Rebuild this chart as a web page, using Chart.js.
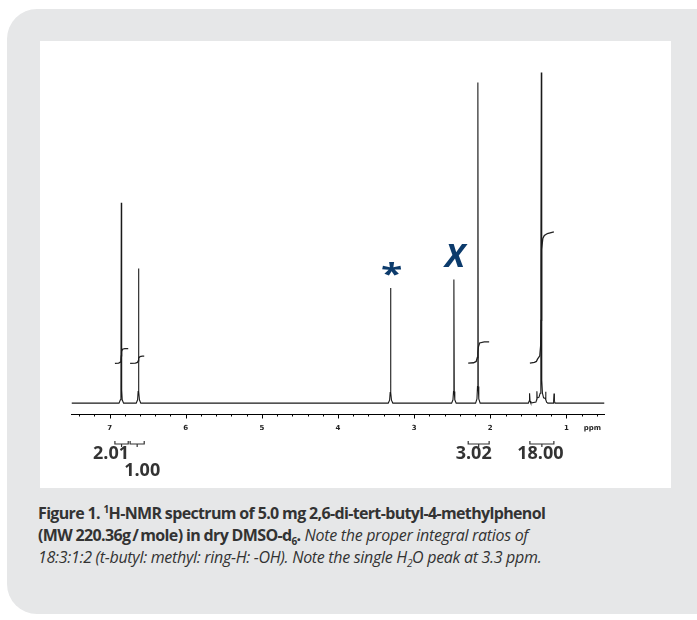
<!DOCTYPE html>
<html>
<head>
<meta charset="utf-8">
<script src="https://cdn.jsdelivr.net/npm/chart.js@4.4.1/dist/chart.umd.min.js"></script>
<style>
	html, body { margin: 0; padding: 0; background: #fff; width: 697px; height: 620px; overflow: hidden; }
	.panel { position: absolute; left: 7px; top: 9px; width: 730px; height: 605px; background: #e6e7e8; border-radius: 30px; }
	.plot { position: absolute; left: 40px; top: 41px; width: 631px; height: 447px; background: #fff; }
	.caption {
		position: absolute; left: 38px; top: 502px; white-space: nowrap;
		font-family: "Open Sans", sans-serif;
		font-size: 16px; line-height: 22px; color: #333;
	}
	.caption b { letter-spacing: -0.65px; }
	.caption i { letter-spacing: -0.3px; }
	.caption sub { font-size: 10px; line-height: 0; }
	.caption sup { font-size: 10px; line-height: 0; }
</style>
</head>
<body>
<div class="panel"></div>
<div class="plot"><canvas id="nmrChart" width="631" height="447"></canvas></div>
<div class="caption">
	<b>Figure 1. <sup>1</sup>H-NMR spectrum of 5.0 mg 2,6-di-tert-butyl-4-methylphenol</b><br>
	<b>(MW 220.36g&thinsp;/&thinsp;mole) in dry DMSO-d<sub>6</sub>.</b> <i>Note the proper integral ratios of</i><br>
	<i>18:3:1:2 (t-butyl: methyl: ring-H: -OH). Note the single H<sub>2</sub>O peak at 3.3 ppm.</i>
</div>
<script>
// spectrum (chemical shift in ppm, intensity with tallest peak = 100)
const shiftPpm = [
	7.50, 6.90,
	6.876, 6.858, 6.851, 6.846, 6.841, 6.834, 6.816,
	6.65, 6.632, 6.625, 6.620, 6.615, 6.608, 6.59,
	3.34, 3.322, 3.315, 3.310, 3.305, 3.298, 3.28,
	2.508, 2.490, 2.483, 2.478, 2.473, 2.466, 2.448,
	2.193, 2.175, 2.168, 2.163, 2.158, 2.151, 2.133,
	1.50, 1.490, 1.484, 1.478, 1.468,
	1.40, 1.392, 1.388, 1.384, 1.36, 1.345, 1.338, 1.334, 1.330, 1.326, 1.322, 1.315, 1.30, 1.277, 1.273, 1.269, 1.26, 1.245,
	1.175, 1.168, 1.163, 1.158, 1.148,
	0.50
];
const intensity = [
	0, 0,
	0, 1.0, 4.0, 60.6, 4.0, 1.0, 0,
	0, 1.0, 3.5, 40.7, 3.5, 1.0, 0,
	0, 0.9, 3.2, 34.8, 3.2, 0.9, 0,
	0, 1.0, 3.5, 37.4, 3.5, 1.0, 0,
	0, 1.3, 5.0, 97.0, 5.0, 1.3, 0,
	0, 0.6, 3.0, 0.6, 0,
	0.3, 1.0, 3.6, 1.5, 1.8, 3.0, 7.0, 40, 100, 40, 7.0, 3.0, 1.6, 1.4, 3.4, 1.0, 0.3, 0,
	0, 0.6, 2.9, 0.6, 0,
	0
];

// integral traces
const integral1Ppm = [6.93, 6.88, 6.86, 6.850, 6.846, 6.842, 6.83, 6.80, 6.755];
const integral1Val = [12.0, 12.1, 12.4, 13.2, 14.3, 15.6, 16.3, 16.5, 16.5];
const integral2Ppm = [6.73, 6.66, 6.635, 6.624, 6.620, 6.616, 6.60, 6.57, 6.545];
const integral2Val = [12.0, 12.1, 12.3, 12.8, 13.1, 13.6, 14.1, 14.2, 14.2];
const integral3Ppm = [2.29, 2.22, 2.185, 2.170, 2.163, 2.156, 2.14, 2.08, 2.015];
const integral3Val = [12.1, 12.2, 12.6, 13.8, 15.3, 17.0, 18.2, 18.5, 18.5];
const integral4Ppm = [1.48, 1.42, 1.395, 1.38, 1.35, 1.338, 1.333, 1.330, 1.327, 1.322, 1.31, 1.29, 1.25, 1.165];
const integral4Val = [12.1, 12.3, 12.6, 13.3, 14.3, 17.5, 25.0, 32.0, 40.0, 46.5, 49.8, 50.7, 51.3, 51.8];

// integral brackets under the axis
const integralStart = [6.93, 6.73, 2.29, 1.48];
const integralEnd = [6.755, 6.545, 2.015, 1.165];
const integralLabels = ["2.01", "1.00", "3.02", "18.00"];

// marked peaks (solvent / water)
const markerPpm = [3.31, 2.478];
const markerLevel = [34.8, 37.4];
const markerText = ["*", "X"];

const navy = "#0c3b6c";

function toPoints(xs, ys) {
	return xs.map((x, i) => ({ x: x, y: ys[i] }));
}

function isTenth(v, n) {
	const t = Math.round(v * 10);
	return Math.abs(v * 10 - t) < 1e-6 && t % n === 0;
}

// draws tick marks, brackets, integral values and peak markers
const extras = {
	id: "extras",
	afterDraw(chart) {
		const c = chart.ctx;
		const xs = chart.scales.x;
		const ys = chart.scales.y;
		const base = chart.chartArea.bottom;

		c.save();
		c.strokeStyle = "#000";
		c.lineWidth = 1;
		xs.ticks.forEach((t) => {
			if (!isTenth(t.value, 2)) return;
			const px = Math.round(xs.getPixelForValue(t.value)) + 0.5;
			const len = isTenth(t.value, 10) ? 4.5 : 2.5;
			c.beginPath();
			c.moveTo(px, base);
			c.lineTo(px, base + len);
			c.stroke();
		});

		c.font = "bold 7px 'DejaVu Sans'";
		c.fillStyle = "#222";
		c.textAlign = "center";
		c.textBaseline = "middle";
		c.fillText("ppm", xs.getPixelForValue(0.66), base + 14);

		// integral brackets
		const labelShift = [-10.5, 5, -5, -1.5];
		const labelRow = [0, 1, 0, 0];
		c.strokeStyle = "#333";
		c.lineWidth = 1.2;
		c.font = "bold 18px 'Open Sans'";
		c.fillStyle = "#333";
		integralStart.forEach((s, i) => {
			const x1 = xs.getPixelForValue(s);
			const x2 = xs.getPixelForValue(integralEnd[i]);
			const xm = (x1 + x2) / 2;
			const yb = base + 30;
			c.beginPath();
			c.moveTo(x1, yb - 3);
			c.lineTo(x1, yb);
			c.lineTo(x2, yb);
			c.lineTo(x2, yb - 3);
			c.moveTo(xm, yb);
			c.lineTo(xm, yb + 3);
			c.stroke();
			c.fillText(integralLabels[i], xm + labelShift[i], base + 40 + labelRow[i] * 17);
		});

		// peak markers
		c.fillStyle = navy;
		c.textBaseline = "alphabetic";
		markerPpm.forEach((p, i) => {
			const px = xs.getPixelForValue(p);
			const top = ys.getPixelForValue(markerLevel[i]);
			if (markerText[i] === "*") {
				c.font = "bold 34px 'Open Sans'";
				c.save();
				c.translate(px + 1, top - 21);
				c.scale(1.15, 0.85);
				c.fillText("*", 0, 20);
				c.restore();
			} else {
				c.font = "italic bold 33px 'Open Sans'";
				c.fillText("X", px + 1, top - 12);
			}
		});
		c.restore();
	}
};

const ctx = document.getElementById("nmrChart").getContext("2d");
const nmrChart = new Chart(ctx, {
	type: "line",
	data: {
		datasets: [
			{ data: toPoints(shiftPpm, intensity), borderColor: "#1a1a1a", borderWidth: 1.1 },
			{ data: toPoints(integral1Ppm, integral1Val), borderColor: "#222", borderWidth: 1.3 },
			{ data: toPoints(integral2Ppm, integral2Val), borderColor: "#222", borderWidth: 1.3 },
			{ data: toPoints(integral3Ppm, integral3Val), borderColor: "#222", borderWidth: 1.3 },
			{ data: toPoints(integral4Ppm, integral4Val), borderColor: "#222", borderWidth: 1.3 },
		],
	},
	options: {
		responsive: false,
		animation: false,
		layout: { padding: { left: 31.5, right: 66.5, top: 19, bottom: 54 } },
		plugins: { legend: { display: false }, tooltip: { enabled: false } },
		elements: { point: { radius: 0 }, line: { tension: 0, fill: false } },
		scales: {
			x: {
				type: "linear",
				reverse: true,
				min: 0.5,
				max: 7.5,
				border: { color: "#000", width: 1 },
				grid: { drawOnChartArea: false, drawTicks: true, tickLength: 4, tickColor: "rgba(0,0,0,0)" },
				ticks: {
					stepSize: 0.1,
					autoSkip: false,
					maxRotation: 0,
					padding: 6,
					color: "#222",
					font: { size: 7, weight: "bold", family: "DejaVu Sans" },
					callback: (v) => (isTenth(v, 10) ? String(Math.round(v)) : ""),
				},
				afterFit: (s) => { s.height = 20; },
			},
			y: { display: false, min: -3.3, max: 103.8 },
		},
	},
	plugins: [extras],
});
</script>
</body>
</html>
